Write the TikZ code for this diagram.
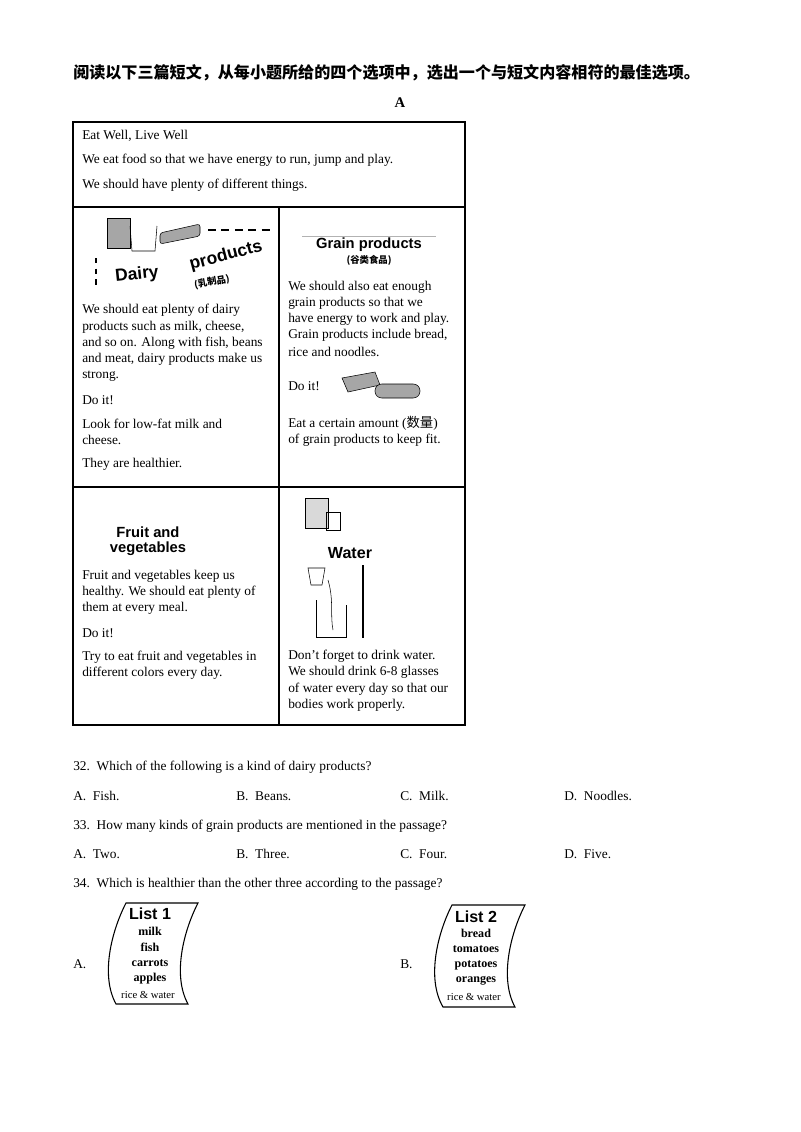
\documentclass[tikz,border=0pt]{standalone}
\usepackage{fontspec}
\setmainfont{Liberation Serif}
\newfontfamily\cjk{Noto Sans CJK SC}
\newfontfamily\hsans{Liberation Sans}
\usetikzlibrary{positioning}
\tikzstyle{line} = [anchor=west, inner sep=0pt, font=\fontsize{10}{12}\selectfont]
\tikzstyle{title} = [inner sep=0pt, font=\hsans\bfseries\fontsize{11}{12}\selectfont]
\tikzstyle{cn} = [inner sep=0pt, font=\cjk\bfseries\fontsize{7}{8}\selectfont]
\tikzstyle{pic} = [fill=black!35, draw=black]
\tikzstyle{scroll} = [draw, thick]
\tikzstyle{item} = [inner sep=0pt, font=\bfseries\fontsize{9}{10}\selectfont]
\begin{document}
\begin{tikzpicture}[x=0.02625cm, y=-0.02625cm]
	\useasboundingbox (0,0) rectangle (800,1132);
	% heading
	\node[anchor=west, inner sep=0pt, font=\cjk\bfseries\fontsize{12}{14}\selectfont] (head) at (73,73) {阅读以下三篇短文，从每小题所给的四个选项中，选出一个与短文内容相符的最佳选项。};
	\node[font=\bfseries\fontsize{11}{12}\selectfont] (secA) at (400,103) {A};
	% table
	\draw[thick] (73,122) rectangle (465,725);
	\draw[thick] (73,207) -- (465,207);
	\draw[thick] (73,487) -- (465,487);
	\draw[thick] (279,207) -- (279,725);
	% row 1
	\node[line] (t1) at (82,136) {Eat Well, Live Well};
	\node[line] (t2) at (82,160) {We eat food so that we have energy to run, jump and play.};
	\node[line] (t3) at (82,185) {We should have plenty of different things.};
	% dairy
	\draw[pic] (107,218) rectangle (130,248);
	\draw (130,226) -- (132,251) -- (155,251) -- (157,226);
	\draw[pic, rounded corners=2pt] (160,233) -- (200,224) -- (200,236) -- (160,244) -- cycle;
	\draw[thick, dash pattern=on 6pt off 4pt] (208,230) -- (272,230);
	\draw[thick, dash pattern=on 4pt off 4pt] (96,258) -- (96,285);
	\node[title, font=\hsans\bfseries\fontsize{13}{14}\selectfont, rotate=6] (dairy) at (137,275) {Dairy};
	\node[title, font=\hsans\bfseries\fontsize{13}{14}\selectfont, rotate=15] (prod) at (226,256) {products};
	\node[cn, rotate=10] (dairycn) at (212,282) {(乳制品)};
	\node[line] (d1) at (82,310) {We should eat plenty of dairy};
	\node[line] (d2) at (82,327) {products such as milk, cheese,};
	\node[line] (d3) at (82,343) {and so on. Along with fish, beans};
	\node[line] (d4) at (82,359) {and meat, dairy products make us};
	\node[line] (d5) at (82,376) {strong.};
	\node[line] (d6) at (82,400) {Do it!};
	\node[line] (d7) at (82,424) {Look for low-fat milk and};
	\node[line] (d8) at (82,440) {cheese.};
	\node[line] (d9) at (82,464) {They are healthier.};
	% grain
	\draw[black!30] (302,236) -- (436,236);
	\node[title] (grain) at (369,245) {Grain products};
	\node[cn] (graincn) at (369,260) {(谷类食品)};
	\node[line] (g1) at (288,287) {We should also eat enough};
	\node[line] (g2) at (288,303) {grain products so that we};
	\node[line] (g3) at (288,319) {have energy to work and play.};
	\node[line] (g4) at (288,335) {Grain products include bread,};
	\node[line] (g5) at (288,352) {rice and noodles.};
	\node[line] (g6) at (288,386) {Do it!};
	\draw[pic] (342,378) -- (375,372) -- (380,385) -- (348,392) -- cycle;
	\draw[pic, rounded corners=5pt] (375,384) rectangle (420,398);
	\node[line] (g7) at (288,423) {Eat a certain amount ({\cjk 数量})};
	\node[line] (g8) at (288,440) {of grain products to keep fit.};
	% fruit
	\node[title] (fruit) at (148,532) {Fruit and};
	\node[title] (veg) at (148,549) {vegetables};
	\node[line] (f1) at (82,576) {Fruit and vegetables keep us};
	\node[line] (f2) at (82,592) {healthy. We should eat plenty of};
	\node[line] (f3) at (82,608) {them at every meal.};
	\node[line] (f4) at (82,633) {Do it!};
	\node[line] (f5) at (82,657) {Try to eat fruit and vegetables in};
	\node[line] (f6) at (82,673) {different colors every day.};
	% water
	\draw[pic, fill=black!15] (305,498) rectangle (328,528);
	\draw (326,512) rectangle (340,530);
	\node[title, font=\hsans\bfseries\fontsize{12}{13}\selectfont] (water) at (350,553) {Water};
	\draw (308,568) -- (325,568) -- (322,585) -- (311,585) -- cycle;
	\draw (316,600) -- (316,637) (316,637) -- (346,637) -- (346,605);
	\draw[thick] (363,565) -- (363,638);
	\draw (328,580) .. controls (334,600) and (330,615) .. (333,630);
	\node[line] (w1) at (288,656) {Don't forget to drink water.};
	\node[line] (w2) at (288,672) {We should drink 6-8 glasses};
	\node[line] (w3) at (288,689) {of water every day so that our};
	\node[line] (w4) at (288,705) {bodies work properly.};
	% questions
	\node[line] (q32) at (73,767) {32.\ \ Which of the following is a kind of dairy products?};
	\node[line] (a32) at (73,796) {A.\ \ Fish.};
	\node[line] (b32) at (236,796) {B.\ \ Beans.};
	\node[line] (c32) at (400,796) {C.\ \ Milk.};
	\node[line] (e32) at (564,796) {D.\ \ Noodles.};
	\node[line] (q33) at (73,826) {33.\ \ How many kinds of grain products are mentioned in the passage?};
	\node[line] (a33) at (73,854) {A.\ \ Two.};
	\node[line] (b33) at (236,854) {B.\ \ Three.};
	\node[line] (c33) at (400,854) {C.\ \ Four.};
	\node[line] (e33) at (564,854) {D.\ \ Five.};
	\node[line] (q34) at (73,884) {34.\ \ Which is healthier than the other three according to the passage?};
	% lists
	\node[line] (la) at (73,964) {A.};
	\draw[scroll] (126,903) .. controls (112,930) and (100,975) .. (116,1004) -- (188,1004)
		.. controls (172,975) and (184,930) .. (198,903) -- cycle;
	\node[title, font=\hsans\bfseries\fontsize{12}{13}\selectfont] (l1) at (150,914) {List 1};
	\node[item] at (150,931) {milk};
	\node[item] at (150,947) {fish};
	\node[item] at (150,963) {carrots};
	\node[item] at (150,979) {apples};
	\node[item, font=\fontsize{8}{9}\selectfont] at (148,995) {rice \& water};
	\node[line] (lb) at (400,964) {B.};
	\draw[scroll] (452,905) .. controls (438,932) and (426,978) .. (443,1007) -- (515,1007)
		.. controls (499,978) and (511,932) .. (525,905) -- cycle;
	\node[title, font=\hsans\bfseries\fontsize{12}{13}\selectfont] (l2) at (476,917) {List 2};
	\node[item] at (476,933) {bread};
	\node[item] at (476,949) {tomatoes};
	\node[item] at (476,965) {potatoes};
	\node[item] at (476,981) {oranges};
	\node[item, font=\fontsize{8}{9}\selectfont] at (474,997) {rice \& water};
\end{tikzpicture}
\end{document}
